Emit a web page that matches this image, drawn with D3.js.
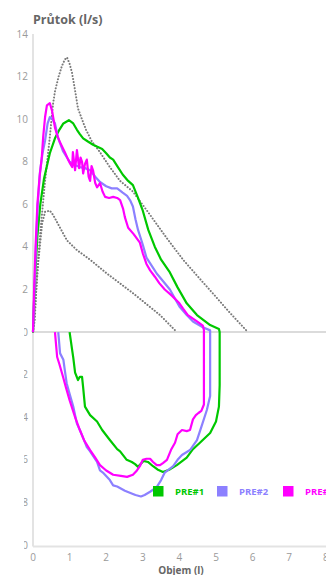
<!DOCTYPE html>
<html><head><meta charset="utf-8">
<script src="https://cdn.jsdelivr.net/npm/d3@7"></script>
<style>
html,body{margin:0;padding:0;background:#fff;}
svg{display:block;}
text{font-family:"Open Sans","DejaVu Sans",sans-serif;}
</style></head>
<body>
<svg id="chart" width="326" height="575"></svg>
<script>
// ---- data ----
const yTicks = [14, 12, 10, 8, 6, 4, 2, 0, -2, -4, -6, -8, -10];
const xTicks = [0, 1, 2, 3, 4, 5, 6, 7, 8];
const seriesNames = ["PRE#1", "PRE#2", "PRE#3"];
const seriesColors = ["#00c800", "#8c80ff", "#ff00ff"];

const pre1Vol = [0,0.03,0.07,0.12,0.2,0.3,0.46,0.6,0.72,0.83,0.98,1.1,1.2,1.28,1.37,1.5,1.64,1.76,1.89,2.0,2.1,2.19,2.32,2.45,2.6,2.73,2.87,3.0,3.15,3.33,3.5,3.74,3.95,4.2,4.48,4.84,5.08,5.1,
  5.1,5.1,5.08,5.0,4.84,4.56,4.37,4.2,3.93,3.74,3.55,3.4,3.28,3.14,3.02,2.87,2.79,2.7,2.56,2.38,2.3,2.1,1.89,1.75,1.56,1.42,1.37,1.34,1.28,1.23,1.15,1.1,1.07,1.0];
const pre1Flow = [0,1.5,3,4.5,6,7.2,8.4,9.1,9.5,9.8,9.95,9.8,9.5,9.3,9.1,8.95,8.8,8.7,8.6,8.4,8.2,8.1,7.75,7.4,7.1,6.9,6.3,5.7,4.8,4.0,3.4,2.8,2.1,1.35,0.8,0.33,0.15,0,
  -1,-2.5,-3.5,-4.2,-4.74,-5.2,-5.5,-5.9,-6.25,-6.45,-6.57,-6.45,-6.3,-6.1,-6.05,-6.33,-6.2,-6.1,-6.0,-5.6,-5.5,-5.07,-4.6,-4.2,-3.9,-3.5,-2.6,-2.1,-2.1,-2.25,-1.9,-1.2,-0.85,0];

const pre2Vol = [0,0.04,0.08,0.13,0.19,0.26,0.33,0.4,0.46,0.53,0.6,0.68,0.82,1.0,1.14,1.28,1.42,1.56,1.7,1.83,2.0,2.15,2.3,2.45,2.57,2.65,2.73,2.8,2.87,3.0,3.1,3.25,3.38,3.55,3.74,3.87,4.0,4.2,4.37,4.64,4.84,4.84,
  4.84,4.84,4.75,4.6,4.48,4.29,4.07,3.95,3.83,3.6,3.5,3.38,3.2,3.05,2.95,2.8,2.73,2.51,2.3,2.19,2.1,1.91,1.83,1.75,1.56,1.47,1.4,1.28,1.2,1.1,1.0,0.92,0.87,0.83,0.74,0.69];
const pre2Flow = [0,2,4,6,7.5,8.4,9.0,9.8,10.1,10.0,9.8,9.15,8.5,8.0,7.85,7.75,7.7,7.6,7.3,7.05,6.85,6.75,6.75,6.55,6.4,6.2,5.9,5.3,4.8,4.1,3.5,3.1,2.75,2.4,2.0,1.6,1.2,0.8,0.5,0.23,0.08,0,
  -1.5,-3.0,-3.66,-4.45,-5.07,-5.54,-5.77,-6.0,-6.3,-6.6,-6.95,-7.28,-7.5,-7.65,-7.72,-7.65,-7.6,-7.45,-7.25,-7.2,-6.95,-6.6,-6.5,-6.1,-5.6,-5.4,-5.1,-4.6,-4.3,-3.5,-2.9,-2.4,-1.8,-1.3,-1.0,0];

const pre3Vol = [0,0.03,0.07,0.12,0.18,0.24,0.28,0.33,0.38,0.46,0.52,0.6,0.67,0.74,0.87,0.96,1.02,1.07,1.09,1.15,1.2,1.26,1.3,1.34,1.37,1.42,1.47,1.52,1.56,1.6,1.64,1.7,1.75,1.83,1.9,1.97,2.08,2.19,2.3,2.38,2.46,2.51,2.6,2.75,2.92,3.0,3.1,3.2,3.33,3.45,3.6,3.8,4.0,4.1,4.23,4.48,4.64,4.67,4.67,
  4.67,4.67,4.6,4.52,4.45,4.37,4.29,4.2,4.07,3.95,3.88,3.78,3.66,3.55,3.47,3.38,3.28,3.2,3.1,3.0,2.92,2.84,2.73,2.57,2.4,2.19,2.0,1.83,1.7,1.56,1.4,1.28,1.15,1.0,0.9,0.82,0.72,0.66,0.6];
const pre3Flow = [0,2,4,6,7.3,8.2,9.2,10.1,10.65,10.75,10.4,9.6,9.2,8.9,8.45,8.1,7.9,7.75,8.45,7.6,8.55,7.7,8.2,8.0,7.45,7.9,8.1,7.3,7.1,7.8,7.6,7.0,6.8,7.0,6.6,6.35,6.3,6.35,6.3,6.2,5.8,5.4,4.9,4.6,4.2,3.7,3.2,2.9,2.6,2.3,2.0,1.7,1.35,1.1,0.8,0.5,0.3,0.1,0,
  -1.5,-3.4,-3.7,-3.8,-3.9,-4.1,-4.6,-4.65,-4.6,-4.8,-5.2,-5.5,-6.0,-6.15,-6.25,-6.25,-6.1,-5.95,-5.95,-6.0,-6.3,-6.5,-6.7,-6.8,-6.75,-6.7,-6.5,-6.25,-5.9,-5.54,-5.1,-4.6,-4.0,-3.2,-2.6,-2.1,-1.5,-1.17,0];

const predVol  = [0,0.05,0.1,0.19,0.27,0.33,0.45,0.55,0.6,0.7,0.79,0.87,0.93,1.0,1.07,1.15,1.23,1.37,1.45,1.61,1.83,2.1,2.38,2.73,3.2,3.66,4.1,4.56,5.0,5.33,5.6,5.87];
const predFlow = [0,0.6,2.4,4.5,6.0,7.1,9.0,10.75,11.3,12.0,12.5,12.8,12.9,12.6,12.15,11.35,10.5,9.85,9.5,8.95,8.45,7.75,7.1,6.6,5.5,4.4,3.4,2.5,1.65,1.0,0.5,0];
const lowVol  = [0,0.05,0.14,0.25,0.33,0.46,0.55,0.74,0.93,1.2,1.56,2.02,2.73,3.47,3.93];
const lowFlow = [0,1.0,3.2,5.1,5.65,5.7,5.5,4.9,4.3,3.85,3.4,2.75,1.83,0.8,0];

// ---- chart ----
const svg = d3.select("#chart");
const x = d3.scaleLinear().domain([0, 8]).range([33, 325.8]);
const y = d3.scaleLinear().domain([-10, 14]).range([545, 34]);

// axis lines
svg.append("line").attr("x1", x(0)).attr("x2", x(0)).attr("y1", y(14)).attr("y2", 546.5)
  .attr("stroke", "#e3e3e3").attr("stroke-width", 2);
svg.append("line").attr("x1", x(0)).attr("x2", 326).attr("y1", y(0)).attr("y2", y(0))
  .attr("stroke", "#cfcfcf").attr("stroke-width", 1.5);
svg.append("line").attr("x1", x(0)).attr("x2", 326).attr("y1", 546.5).attr("y2", 546.5)
  .attr("stroke", "#e3e3e3").attr("stroke-width", 2);

// y tick labels
svg.append("defs").append("clipPath").attr("id", "lowclip")
  .append("rect").attr("x", 24).attr("y", 320).attr("width", 10).attr("height", 240);
const tickStyle = s => s.attr("fill", "#9a9a9a").attr("font-size", "10px");
svg.append("g").selectAll("text").data(yTicks.filter(d => d > 0)).join("text")
  .attr("x", 28).attr("y", d => y(d)).attr("dy", "0.35em").attr("text-anchor", "end")
  .text(d => Math.abs(d)).call(tickStyle);
svg.append("g").attr("clip-path", "url(#lowclip)").selectAll("text").data(yTicks.filter(d => d <= 0)).join("text")
  .attr("x", 28).attr("y", d => y(d)).attr("dy", "0.35em").attr("text-anchor", "end")
  .text(d => Math.abs(d)).call(tickStyle);

// x tick labels
svg.append("g").selectAll("text").data(xTicks).join("text")
  .attr("x", d => x(d)).attr("y", 561).attr("text-anchor", "middle")
  .text(d => d).call(tickStyle);

// titles
svg.append("text").attr("x", 33).attr("y", 24).attr("fill", "#666").attr("font-size", "12.5px")
  .attr("font-weight", "bold").text("Průtok (l/s)");
svg.append("text").attr("x", 181).attr("y", 574).attr("text-anchor", "middle").attr("fill", "#666")
  .attr("font-size", "10px").attr("font-weight", "bold").text("Objem (l)");

const line = d3.line().x(d => x(d[0])).y(d => y(d[1]));

// predicted dotted curves
[[predVol, predFlow], [lowVol, lowFlow]].forEach(([v, f]) => {
  svg.append("path").datum(d3.zip(v, f)).attr("d", line)
    .attr("fill", "none").attr("stroke", "#7a7a7a").attr("stroke-width", 2)
    .attr("stroke-dasharray", "0.1,3").attr("stroke-linecap", "round");
});

// series
const series = [[pre1Vol, pre1Flow], [pre2Vol, pre2Flow], [pre3Vol, pre3Flow]];
series.forEach(([v, f], i) => {
  svg.append("path").datum(d3.zip(v, f)).attr("d", line)
    .attr("fill", "none").attr("stroke", seriesColors[i]).attr("stroke-width", 2.2)
    .attr("stroke-linejoin", "round");
});

// legend
const legX = [153, 217, 283];
const leg = svg.append("g").selectAll("g").data(seriesNames).join("g")
  .attr("transform", (d, i) => `translate(${legX[i]},486)`);
leg.append("rect").attr("width", 10.5).attr("height", 10.5).attr("fill", (d, i) => seriesColors[i]);
leg.append("text").attr("x", 22).attr("y", 9).attr("font-size", "9.5px").attr("font-weight", "bold")
  .attr("fill", (d, i) => seriesColors[i]).text(d => d);
</script>
</body></html>
